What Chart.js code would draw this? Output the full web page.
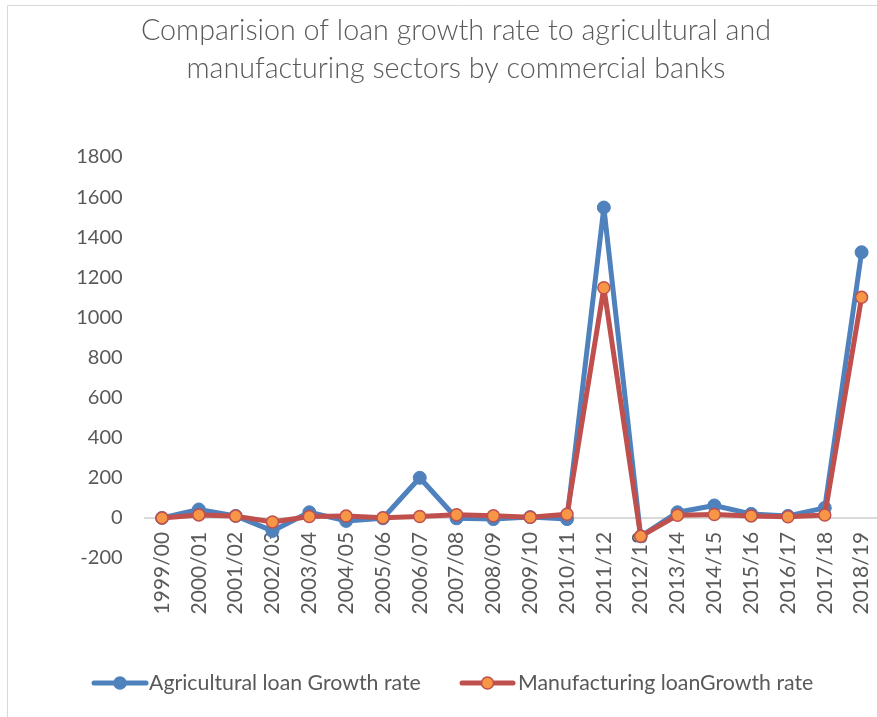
<!DOCTYPE html>
<html><head><meta charset="utf-8">
<script src="https://cdn.jsdelivr.net/npm/chart.js@4/dist/chart.umd.min.js"></script>
<style>html,body{margin:0;padding:0;overflow:hidden;background:#fff}canvas{display:block}</style>
</head><body><canvas id="c" width="905" height="717"></canvas>
<script>
const categories = ["1999/00","2000/01","2001/02","2002/03","2003/04","2004/05","2005/06","2006/07","2007/08","2008/09","2009/10","2010/11","2011/12","2012/13","2013/14","2014/15","2015/16","2016/17","2017/18","2018/19"];
const agriculturalGrowth = [0, 42, 10, -65, 28, -15, -2, 200, -2, -6, 4, -6, 1548, -92, 28, 62, 20, 10, 50, 1325];
const manufacturingGrowth = [0, 15, 9, -20, 7, 9, 1, 7, 16, 11, 3, 18, 1148, -92, 13, 17, 10, 6, 14, 1100];
const yMin = -200, yMax = 1800, yStep = 200;
const titleLines = ["Comparision of loan growth rate to agricultural and", "manufacturing sectors by commercial banks"];
const seriesNames = ["Agricultural loan Growth rate", "Manufacturing loanGrowth rate"];

const BLUE = '#4F81BD', RED = '#C0504D', ORANGE = '#F79646', TEXT = '#595959';

const decorPlugin = {
  id: 'decor',
  beforeDraw(chart) {
    const ctx = chart.ctx;
    ctx.save();
    ctx.fillStyle = '#fff';
    ctx.fillRect(0, 0, chart.width, chart.height);
    ctx.strokeStyle = '#d9d9d9';
    ctx.lineWidth = 1;
    ctx.beginPath();
    ctx.moveTo(7.5, 717);
    ctx.lineTo(7.5, 5.5);
    ctx.lineTo(chart.width, 5.5);
    ctx.stroke();
    ctx.restore();
  },
  afterDraw(chart) {
    const ctx = chart.ctx;
    ctx.save();
    ctx.fillStyle = TEXT;
    ctx.font = '300 28.7px Lato';
    ctx.textAlign = 'center';
    ctx.textBaseline = 'middle';
    ctx.fillText(titleLines[0], 456, 31);
    ctx.fillText(titleLines[1], 456, 69);
    const items = [
      {x0: 94, x1: 146, name: seriesNames[0], line: BLUE, fill: BLUE, border: BLUE, tx: 149},
      {x0: 462, x1: 513, name: seriesNames[1], line: RED, fill: ORANGE, border: RED, tx: 518}
    ];
    const ly = 683;
    items.forEach(it => {
      ctx.strokeStyle = it.line;
      ctx.lineWidth = 5;
      ctx.lineCap = 'round';
      ctx.beginPath();
      ctx.moveTo(it.x0, ly);
      ctx.lineTo(it.x1, ly);
      ctx.stroke();
      ctx.beginPath();
      ctx.arc((it.x0 + it.x1) / 2, ly, 6, 0, Math.PI * 2);
      ctx.fillStyle = it.fill;
      ctx.fill();
      ctx.lineWidth = 1.5;
      ctx.strokeStyle = it.border;
      ctx.stroke();
      ctx.fillStyle = TEXT;
      ctx.font = '21.3px Lato';
      ctx.textAlign = 'left';
      ctx.textBaseline = 'middle';
      ctx.fillText(it.name, it.tx, ly);
    });
    ctx.restore();
  }
};

new Chart(document.getElementById('c'), {
  type: 'line',
  data: {
    labels: categories,
    datasets: [
      {
        label: seriesNames[0], data: agriculturalGrowth, order: 2,
        borderColor: BLUE, backgroundColor: BLUE, borderWidth: 5, borderJoinStyle: 'round', borderCapStyle: 'round',
        pointRadius: 6.5, pointBackgroundColor: BLUE, pointBorderColor: BLUE, pointBorderWidth: 1,
        tension: 0, fill: false
      },
      {
        label: seriesNames[1], data: manufacturingGrowth, order: 1,
        borderColor: RED, backgroundColor: ORANGE, borderWidth: 5, borderJoinStyle: 'round', borderCapStyle: 'round',
        pointRadius: 6, pointBackgroundColor: ORANGE, pointBorderColor: RED, pointBorderWidth: 1.5,
        tension: 0, fill: false
      }
    ]
  },
  options: {
    responsive: false, animation: false, devicePixelRatio: 1,
    layout: { padding: { left: 8, right: 25, top: 157, bottom: 159 } },
    plugins: { legend: { display: false }, title: { display: false }, tooltip: { enabled: false } },
    scales: {
      x: {
        position: { y: 0 },
        offset: true,
        grid: { display: false, drawTicks: false },
        border: { display: false },
        ticks: {
          autoSkip: false, minRotation: 90, maxRotation: 90, padding: 14,
          color: TEXT, font: { family: 'Lato', size: 21 }
        }
      },
      y: {
        min: yMin, max: yMax,
        afterFit(scale) { scale.width = 135.6; },
        grid: {
          drawTicks: false,
          color: (c) => (c.tick && c.tick.value === 0) ? '#d9d9d9' : 'rgba(0,0,0,0)',
          lineWidth: 2
        },
        border: { display: false },
        ticks: {
          stepSize: yStep, padding: 21, color: TEXT, font: { family: 'Lato', size: 20 },
          callback: (v) => String(v)
        }
      }
    }
  },
  plugins: [decorPlugin]
});
</script>
</body></html>
